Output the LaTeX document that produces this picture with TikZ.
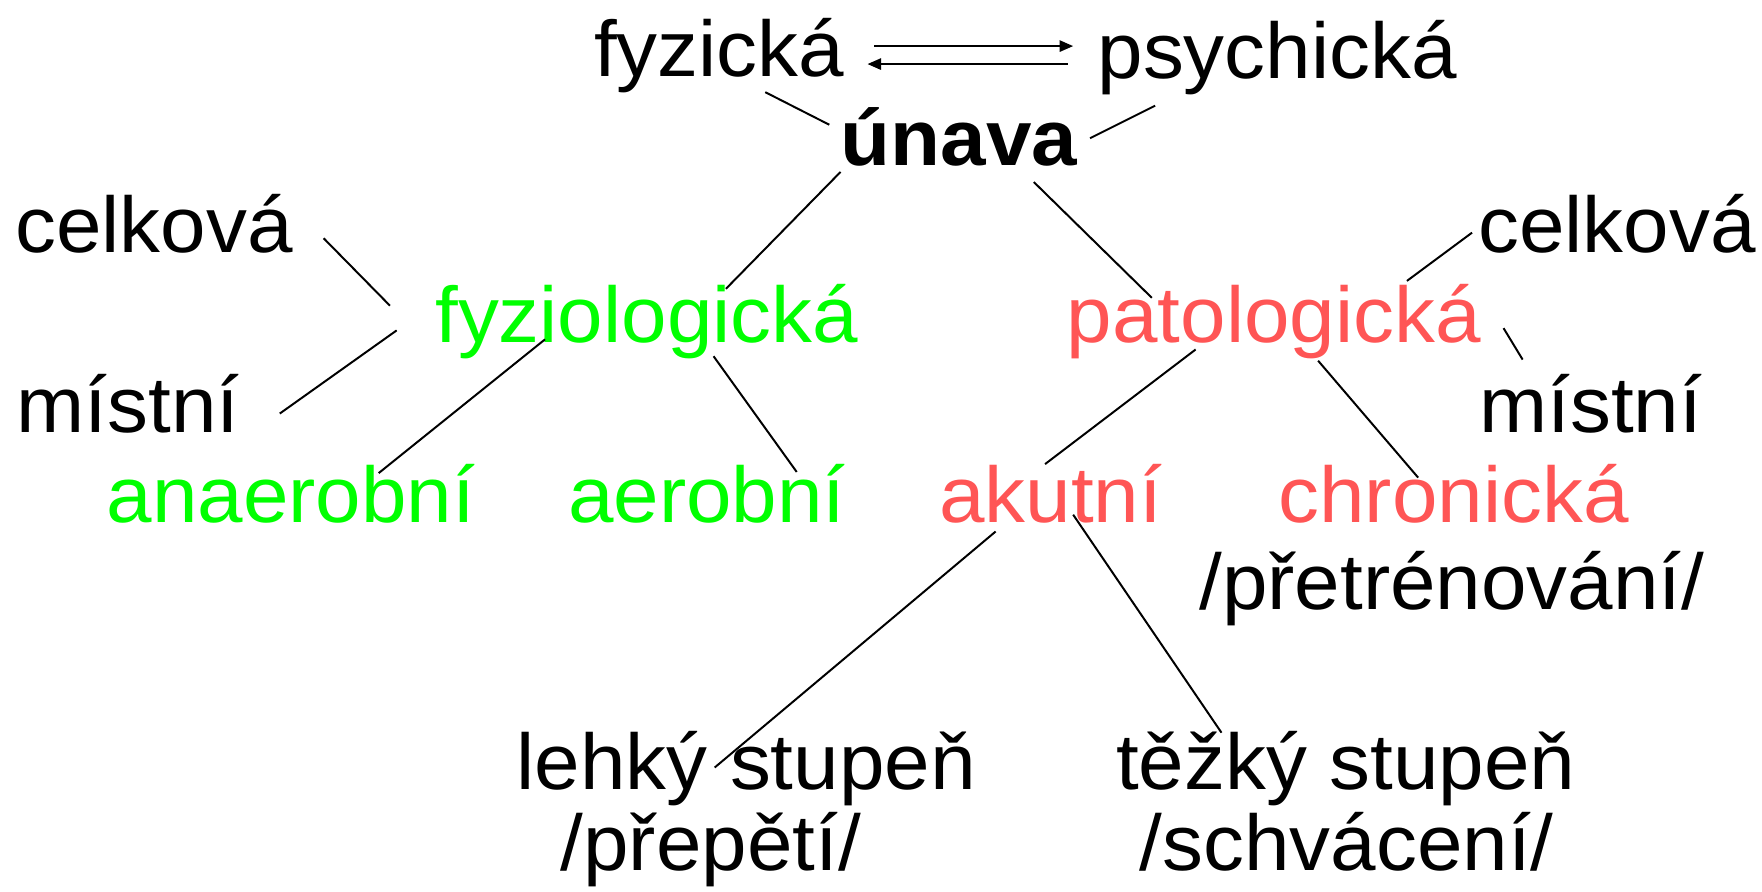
\documentclass[tikz,border=0pt]{standalone}
\usepackage{fontspec}
\setmainfont{Liberation Sans}[FakeStretch=1.035]
\usetikzlibrary{arrows.meta}
\definecolor{fyzgreen}{RGB}{0,255,0}
\definecolor{patred}{RGB}{255,85,85}

\begin{document}
\begin{tikzpicture}[x=0.01cm,y=-0.01cm,
        every node/.style={anchor=base,inner sep=0pt,font=\fontsize{20}{24}\selectfont},
        fyz/.style={text=fyzgreen},
        pat/.style={text=patred},
        link/.style={line width=0.5pt},
        swap/.style={line width=0.5pt,-{Triangle[length=1.2mm,width=1mm]}}]
        \useasboundingbox (0,0) rectangle (1568,793);

        % top of the tree
        \node (fyzicka) at (640,68) {fyzická};
        \node (psychicka) at (1136.5,70) {psychická};
        \node[font=\fontsize{20}{24}\selectfont\bfseries] (unava) at (853.5,147) {únava};

        % second level
        \node (celkovaL) at (137,225) {celková};
        \node (mistniL) at (114,385) {místní};
        \node[fyz] (fyziol) at (575.5,305) {fyziologická};
        \node[pat] (patol) at (1133.5,305) {patologická};
        \node (celkovaR) at (1439,225) {celková};
        \node (mistniR) at (1415.5,385) {místní};

        % third level
        \node[fyz] (anaerob) at (259,465) {anaerobní};
        \node[fyz] (aerob) at (629,465) {aerobní};
        \node[pat] (akutni) at (935,465) {akutní};
        \node[pat] (chronicka) at (1293.5,465) {chronická};
        \node (pretren) at (1292,542) {/přetrénování/};

        % degrees of acute fatigue
        \node (lehky) at (664,703) {lehký stupeň};
        \node (prepeti) at (632.5,775) {/přepětí/};
        \node (tezky) at (1197.5,703) {těžký stupeň};
        \node (schvaceni) at (1198.5,775) {/schvácení/};

        \draw[swap] ([shift={(138,-27)}]fyzicka.base) -- ([shift={(-181.5,-29)}]psychicka.base);
        \draw[swap] ([shift={(-186.5,-13)}]psychicka.base) -- ([shift={(132,-11)}]fyzicka.base);

        \draw[link] ([shift={(41,14)}]fyzicka.base) -- ([shift={(-115.5,-36)}]unava.base);
        \draw[link] ([shift={(-108.5,24)}]psychicka.base) -- ([shift={(116.5,-24)}]unava.base);
        \draw[link] ([shift={(-105.5,6)}]unava.base) -- ([shift={(70.5,-48)}]fyziol.base);
        \draw[link] ([shift={(66.5,15)}]unava.base) -- ([shift={(-108.5,-40)}]patol.base);

        \draw[link] ([shift={(151,-13)}]celkovaL.base) -- ([shift={(-228.5,-33)}]fyziol.base);
        \draw[link] ([shift={(135,-17)}]mistniL.base) -- ([shift={(-222.5,-11)}]fyziol.base);
        \draw[link] ([shift={(-90.5,-3)}]fyziol.base) -- ([shift={(78,-44)}]anaerob.base);
        \draw[link] ([shift={(59.5,12)}]fyziol.base) -- ([shift={(80,-45)}]aerob.base);

        \draw[link] ([shift={(118.5,-55)}]patol.base) -- ([shift={(-129,-18)}]celkovaR.base);
        \draw[link] ([shift={(204.5,-13)}]patol.base) -- ([shift={(-60.5,-65)}]mistniR.base);
        \draw[link] ([shift={(-69.5,6)}]patol.base) -- ([shift={(-5,-52)}]akutni.base);
        \draw[link] ([shift={(39.5,16)}]patol.base) -- ([shift={(-31.5,-40)}]chronicka.base);

        \draw[link] ([shift={(-49,8)}]akutni.base) -- ([shift={(-28,-20)}]lehky.base);
        \draw[link] ([shift={(20,-7)}]akutni.base) -- ([shift={(-110.5,-51)}]tezky.base);
\end{tikzpicture}
\end{document}
